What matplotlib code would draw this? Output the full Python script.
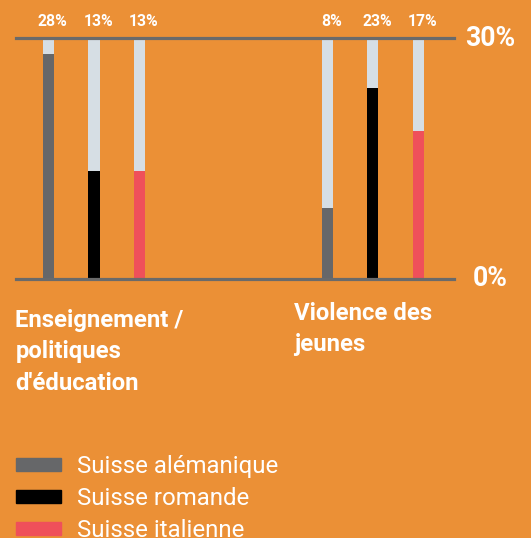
import matplotlib
matplotlib.use("Agg")
import matplotlib.pyplot as plt
from matplotlib.patches import Patch
from matplotlib.transforms import blended_transform_factory

plt.rcParams['font.family'] = ['Roboto', 'DejaVu Sans']

# ---- data ----
categories = ["Enseignement /\npolitiques\nd'éducation", "Violence des\njeunes"]
series = ["Suisse alémanique", "Suisse romande", "Suisse italienne"]
# bar heights (percent)
values = {
    "Suisse alémanique": [28.0, 8.9],
    "Suisse romande": [13.4, 23.8],
    "Suisse italienne": [13.4, 18.4],
}
value_labels = {
    "Suisse alémanique": ["28%", "8%"],
    "Suisse romande": ["13%", "23%"],
    "Suisse italienne": ["13%", "17%"],
}
y_max = 30
y_ticks = [0, 30]
y_tick_labels = ["0%", "30%"]

# ---- styles ----
BG = "#EB9036"
TRACK = "#D6DEE4"
LINE = "#6A6A6A"
colors = {"Suisse alémanique": "#666769", "Suisse romande": "#000000", "Suisse italienne": "#EF505A"}

W, H = 531, 538
fig = plt.figure(figsize=(W / 100, H / 100), dpi=100, facecolor=BG)
ax = fig.add_axes([16 / W, (H - 279) / H, 438 / W, 241 / H])
ax.set_facecolor(BG)

group_gap = 6.13
bar_w = 0.242
for si, s in enumerate(series):
    xs = [g * group_gap + si for g in range(len(categories))]
    ax.bar(xs, [y_max] * len(xs), width=bar_w, color=TRACK, zorder=1)
    ax.bar(xs, values[s], width=bar_w, color=colors[s], zorder=2, label=s)
    for x, lab in zip(xs, value_labels[s]):
        ax.annotate(lab, (x, y_max), xytext=(3, 12.0), textcoords="offset points",
                    ha="center", va="center", color="white", fontsize=11.3,
                    fontweight="bold", annotation_clip=False)

ax.set_xlim(-0.714, 8.91)
ax.set_ylim(0, y_max)
for yv in y_ticks:
    ax.axhline(yv, color=LINE, lw=2.3, zorder=3, clip_on=False)

for sp in ax.spines.values():
    sp.set_visible(False)
ax.set_xticks([])
ax.set_yticks([])

# right side scale labels
trans_y = blended_transform_factory(fig.transFigure, ax.transData)
for yv, lab in zip(y_ticks, y_tick_labels):
    fig.text(490 / W, yv, lab, transform=trans_y, ha="center", va="center",
             color="white", fontsize=19.2, fontweight="bold")

# category labels
trans_c = blended_transform_factory(ax.transData, fig.transFigure)
cat_tops = [(H - 309) / H, (H - 302) / H]
for g, (cat, top) in enumerate(zip(categories, cat_tops)):
    fig.text(g * group_gap - 0.725, top, cat, transform=trans_c, ha="left", va="top",
             color="white", fontsize=17.2, fontweight="bold", linespacing=1.47)

# legend
handles = [Patch(color=colors[s]) for s in series]
leg = fig.legend(handles, series, loc="upper left", bbox_to_anchor=(16 / W, (H - 455) / H),
                 frameon=False, fontsize=17.3, handlelength=1.875, handleheight=0.42,
                 labelspacing=0.38, handletextpad=0.67, borderaxespad=0, borderpad=0)
for t in leg.get_texts():
    t.set_color("white")

fig.savefig("out.png", dpi=100, facecolor=BG)
